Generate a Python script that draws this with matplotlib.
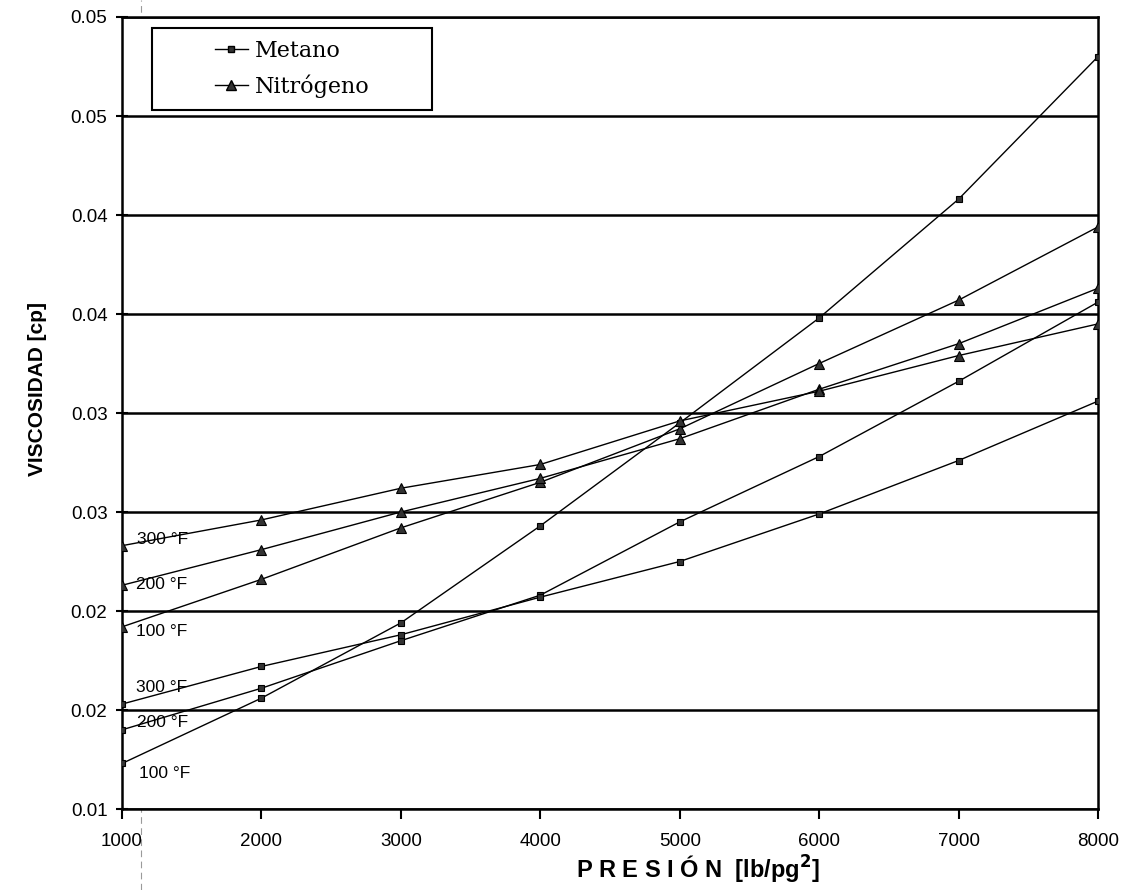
import matplotlib
matplotlib.use("Agg")
import matplotlib.pyplot as plt
from matplotlib.lines import Line2D
from matplotlib.patches import Rectangle

# ---------------- data ----------------
presion = [1000, 2000, 3000, 4000, 5000, 6000, 7000, 8000]

metano_100 = [0.0123, 0.0156, 0.0194, 0.0243, 0.0295, 0.0348, 0.0408, 0.0480]
metano_200 = [0.0140, 0.0161, 0.0185, 0.0208, 0.0245, 0.0278, 0.0316, 0.0356]
metano_300 = [0.0153, 0.0172, 0.0188, 0.0207, 0.0225, 0.0249, 0.0276, 0.0306]

nitro_100 = [0.0192, 0.0216, 0.0242, 0.0265, 0.0292, 0.0325, 0.0357, 0.0394]
nitro_200 = [0.0213, 0.0231, 0.0250, 0.0267, 0.0287, 0.0312, 0.0335, 0.0363]
nitro_300 = [0.0233, 0.0246, 0.0262, 0.0274, 0.0296, 0.0311, 0.0329, 0.0345]

temp_labels = ["100 °F", "200 °F", "300 °F"]
series_names = ["Metano", "Nitrógeno"]

y_ticks = [0.010, 0.015, 0.020, 0.025, 0.030, 0.035, 0.040, 0.045, 0.050]
y_tick_labels = ["0.01", "0.02", "0.02", "0.03", "0.03", "0.04", "0.04", "0.05", "0.05"]
x_ticks = presion
x_tick_labels = [str(v) for v in presion]

# ---------------- figure ----------------
fig = plt.figure(figsize=(11.33, 8.90), dpi=100)
ax = fig.add_axes([0.1077, 0.0910, 0.8614, 0.8899])

ax.set_xlim(1000, 8000)
ax.set_ylim(0.010, 0.050)

# horizontal grid lines
for yv in y_ticks:
    ax.axhline(yv, color="black", lw=1.8, zorder=1)

line_kw = dict(color="black", lw=1.0, zorder=3)
sq_kw = dict(marker="s", markersize=5, markerfacecolor="#333333",
             markeredgecolor="black", markeredgewidth=0.8)
tri_kw = dict(marker="^", markersize=7, markerfacecolor="#333333",
              markeredgecolor="black", markeredgewidth=0.8)

metano = [metano_100, metano_200, metano_300]
nitro = [nitro_100, nitro_200, nitro_300]

for ys in metano:
    ax.plot(presion, ys, **line_kw, **sq_kw)
for ys in nitro:
    ax.plot(presion, ys, **line_kw, **tri_kw)

# temperature labels next to first points (offsets in points)
lab_font = dict(fontsize=12.5, family="Liberation Sans", color="black", zorder=4)
met_offsets = [(12, -7), (11, 5.5), (10, 12)]
nit_offsets = [(10, -3), (10, 0.5), (11, 4.5)]
for ys, lab, off in zip(metano, temp_labels, met_offsets):
    ax.annotate(lab, xy=(presion[0], ys[0]), xytext=off, textcoords="offset points",
                va="center", ha="left", **lab_font)
for ys, lab, off in zip(nitro, temp_labels, nit_offsets):
    ax.annotate(lab, xy=(presion[0], ys[0]), xytext=off, textcoords="offset points",
                va="center", ha="left", **lab_font)

# ticks
ax.set_yticks(y_ticks)
ax.set_yticklabels(y_tick_labels)
ax.set_xticks(x_ticks)
ax.set_xticklabels(x_tick_labels)
ax.tick_params(axis="y", direction="inout", length=9, width=1.5, pad=6,
               labelsize=13.5)
ax.tick_params(axis="x", direction="out", length=7, width=1.5, pad=10,
               labelsize=13.5)
for lab in ax.get_xticklabels() + ax.get_yticklabels():
    lab.set_family("Liberation Sans")

for sp in ax.spines.values():
    sp.set_linewidth(1.8)
    sp.set_color("black")

ax.set_ylabel("VISCOSIDAD [cp]", fontsize=15, fontweight="bold",
              family="Liberation Sans")
ax.yaxis.set_label_coords(-0.077, 0.53)
ax.set_xlabel("P R E S I Ó N  [lb/pg$^{\\mathbf{2}}$]", fontsize=17, fontweight="bold",
              family="Liberation Sans")
ax.xaxis.set_label_coords(0.59, -0.056)

# legend: framed box with centred content
box_x, box_y, box_w, box_h = 0.0307, 0.8826, 0.287, 0.1035
ax.add_patch(Rectangle((box_x, box_y), box_w, box_h, transform=ax.transAxes,
                       facecolor="white", edgecolor="black", lw=1.5, zorder=5))
handles = [
    Line2D([], [], color="black", lw=1.0, marker="s", markersize=5,
           markerfacecolor="#333333", markeredgecolor="black"),
    Line2D([], [], color="black", lw=1.0, marker="^", markersize=7,
           markerfacecolor="#333333", markeredgecolor="black"),
]
leg = ax.legend(handles, series_names, loc="center",
                bbox_to_anchor=(box_x + box_w / 2, box_y + box_h / 2),
                bbox_transform=ax.transAxes, frameon=False,
                prop={"family": "DejaVu Serif", "size": 16},
                handlelength=1.5, handletextpad=0.3, labelspacing=0.55,
                borderpad=0.2)
leg.set_zorder(6)

# faint dashed vertical scan line
fig.add_artist(Line2D([141 / 1133, 141 / 1133], [0.0, 1.0], transform=fig.transFigure,
                      color="#9a9a9a", lw=0.8, ls=(0, (6, 4)), zorder=0))

fig.savefig("out.png", dpi=100)
